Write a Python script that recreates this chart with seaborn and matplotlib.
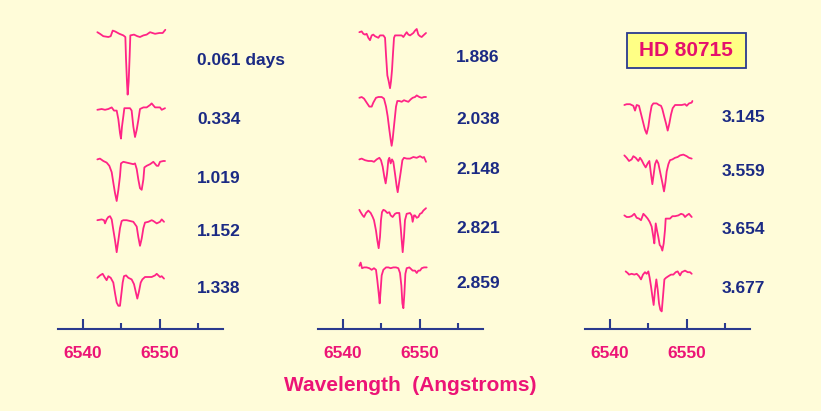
import numpy as np
import pandas as pd
import matplotlib
matplotlib.use("Agg")
import matplotlib.pyplot as plt
from matplotlib.patches import Rectangle
import seaborn as sns

# spectra of HD 80715 near 6545 A, continuum normalised to 1
# ---- left column ----
wl_0061 = [6541.87, 6542.21, 6542.65, 6543.30, 6543.61, 6543.87, 6544.17, 6544.74, 6545.26, 6545.52,
           6545.61, 6545.74, 6545.82, 6545.95, 6546.08, 6546.17, 6546.65, 6547.08, 6547.43, 6547.87,
           6548.30, 6548.74, 6549.39, 6549.95, 6550.39, 6550.73]
fx_0061 = [1.02, 1.00, 0.97, 0.96, 0.97, 1.04, 1.03, 1.00, 0.98, 0.96,
           0.68, 0.38, 0.24, 0.40, 0.72, 0.98, 0.99, 0.97, 0.96, 0.98,
           0.99, 1.02, 1.00, 1.01, 1.01, 1.05]

wl_0334 = [6541.87, 6542.43, 6542.87, 6543.30, 6543.74, 6544.04, 6544.39, 6544.61, 6544.82, 6544.95,
           6545.08, 6545.26, 6545.39, 6545.91, 6546.13, 6546.34, 6546.56, 6546.78, 6547.00, 6547.21,
           6547.43, 6547.87, 6548.30, 6548.74, 6548.95, 6549.39, 6550.04, 6550.26, 6550.69]
fx_0334 = [0.99, 1.00, 0.99, 1.00, 1.02, 0.98, 0.98, 0.87, 0.70, 0.63,
           0.78, 0.91, 1.01, 1.01, 1.01, 0.98, 0.78, 0.65, 0.74, 0.86,
           1.00, 1.02, 1.02, 1.05, 1.07, 1.02, 1.02, 0.99, 1.01]

wl_1019 = [6541.87, 6542.21, 6542.65, 6543.08, 6543.43, 6543.74, 6543.95, 6544.17, 6544.39, 6544.61,
           6544.82, 6544.95, 6545.26, 6545.69, 6546.13, 6546.56, 6546.78, 6547.00, 6547.21, 6547.43,
           6547.65, 6547.87, 6548.00, 6548.30, 6548.74, 6549.17, 6549.61, 6549.82, 6550.04, 6550.47,
           6550.69]
fx_1019 = [1.04, 1.05, 1.02, 1.00, 0.96, 0.88, 0.75, 0.62, 0.52, 0.66,
           0.83, 0.99, 1.01, 1.00, 0.99, 0.98, 0.99, 0.92, 0.79, 0.68,
           0.66, 0.79, 0.94, 0.96, 0.98, 1.01, 0.96, 0.96, 1.01, 1.02,
           1.02]

wl_1152 = [6541.87, 6542.43, 6542.74, 6542.87, 6543.08, 6543.30, 6543.52, 6543.74, 6543.95, 6544.17,
           6544.39, 6544.61, 6544.82, 6545.04, 6545.26, 6545.69, 6546.13, 6546.56, 6547.00, 6547.21,
           6547.43, 6547.65, 6547.87, 6548.08, 6548.52, 6548.95, 6549.17, 6549.61, 6550.04, 6550.26,
           6550.56]
fx_1152 = [1.00, 1.01, 1.00, 0.96, 1.01, 1.04, 1.05, 1.01, 0.88, 0.75,
           0.60, 0.75, 0.90, 0.99, 1.00, 1.00, 0.99, 0.98, 0.92, 0.79,
           0.68, 0.77, 0.90, 0.97, 0.98, 1.00, 0.99, 0.96, 0.98, 1.01,
           0.98]

wl_1338 = [6541.87, 6542.21, 6542.56, 6542.87, 6543.08, 6543.30, 6543.61, 6543.95, 6544.17, 6544.39,
           6544.61, 6544.82, 6545.04, 6545.17, 6545.34, 6545.61, 6545.91, 6546.34, 6546.65, 6546.91,
           6547.08, 6547.30, 6547.52, 6547.74, 6548.08, 6548.52, 6548.95, 6549.39, 6549.61, 6550.04,
           6550.26, 6550.56]
fx_1338 = [0.99, 1.02, 1.04, 0.99, 0.96, 1.01, 0.99, 0.93, 0.80, 0.68,
           0.64, 0.64, 0.82, 0.93, 1.01, 1.02, 0.99, 0.97, 0.91, 0.80,
           0.73, 0.82, 0.93, 0.97, 1.00, 1.00, 1.00, 1.02, 1.04, 1.00,
           1.01, 0.98]

# ---- middle column ----
wl_1886 = [6542.13, 6542.43, 6542.65, 6542.87, 6543.08, 6543.30, 6543.52, 6543.74, 6543.95, 6544.17,
           6544.39, 6544.61, 6544.82, 6545.26, 6545.48, 6545.61, 6545.78, 6545.95, 6546.13, 6546.26,
           6546.39, 6546.52, 6546.65, 6546.78, 6547.21, 6547.65, 6547.87, 6548.08, 6548.30, 6548.52,
           6548.74, 6549.17, 6549.39, 6549.61, 6549.82, 6550.04, 6550.26, 6550.47, 6550.82]
fx_1886 = [1.03, 1.04, 1.01, 1.00, 1.01, 0.96, 0.93, 0.99, 1.00, 0.98,
           0.97, 0.96, 0.99, 0.99, 0.96, 0.74, 0.49, 0.42, 0.33, 0.42,
           0.56, 0.77, 0.96, 0.99, 0.99, 0.99, 0.97, 1.00, 1.03, 1.00,
           0.99, 1.02, 1.05, 1.07, 1.00, 0.98, 0.97, 0.99, 1.02]

wl_2038 = [6542.13, 6542.43, 6542.74, 6543.08, 6543.43, 6543.74, 6543.95, 6544.30, 6544.61, 6545.04,
           6545.34, 6545.61, 6545.82, 6546.04, 6546.21, 6546.34, 6546.47, 6546.65, 6546.78, 6546.91,
           6547.08, 6547.34, 6547.65, 6547.95, 6548.21, 6548.52, 6548.82, 6549.08, 6549.39, 6549.61,
           6549.95, 6550.26, 6550.56, 6550.82]
fx_2038 = [1.00, 1.01, 0.99, 0.94, 0.89, 0.89, 0.94, 1.00, 1.01, 1.01,
           0.99, 0.89, 0.77, 0.60, 0.48, 0.40, 0.48, 0.65, 0.77, 0.89,
           0.96, 0.96, 0.95, 0.97, 0.96, 0.95, 0.98, 1.00, 1.01, 1.03,
           1.01, 1.00, 1.01, 1.01]

wl_2148 = [6542.13, 6542.43, 6542.87, 6543.30, 6543.74, 6544.04, 6544.39, 6544.74, 6544.95, 6545.17,
           6545.39, 6545.56, 6545.74, 6545.91, 6546.04, 6546.21, 6546.39, 6546.56, 6546.78, 6547.00,
           6547.13, 6547.30, 6547.52, 6547.74, 6547.95, 6548.30, 6548.74, 6549.17, 6549.61, 6550.04,
           6550.39, 6550.56, 6550.82]
fx_2148 = [1.01, 1.02, 1.00, 0.99, 0.99, 0.98, 1.01, 1.03, 1.00, 0.92,
           0.79, 0.71, 0.83, 1.00, 1.03, 0.96, 1.01, 0.98, 0.83, 0.67,
           0.60, 0.71, 0.85, 1.00, 1.03, 1.02, 1.02, 1.04, 1.03, 1.05,
           1.03, 1.04, 0.98]

wl_2821 = [6542.13, 6542.30, 6542.56, 6542.74, 6543.00, 6543.30, 6543.61, 6543.87, 6544.04, 6544.30,
           6544.47, 6544.65, 6544.82, 6544.95, 6545.08, 6545.26, 6545.48, 6545.78, 6546.04, 6546.21,
           6546.47, 6546.78, 6547.00, 6547.34, 6547.52, 6547.65, 6547.78, 6547.95, 6548.08, 6548.30,
           6548.74, 6548.95, 6549.08, 6549.26, 6549.39, 6549.61, 6549.82, 6550.04, 6550.26, 6550.47,
           6550.82]
fx_2821 = [1.03, 1.00, 0.96, 0.94, 0.99, 1.02, 0.99, 0.94, 0.90, 0.77,
           0.65, 0.55, 0.69, 0.90, 1.00, 1.03, 1.02, 0.99, 1.00, 0.96,
           0.94, 0.98, 0.99, 0.99, 0.81, 0.65, 0.50, 0.69, 0.90, 0.98,
           0.99, 0.96, 0.88, 0.96, 0.96, 0.93, 0.94, 0.98, 0.99, 1.02,
           1.05]

wl_2859 = [6542.13, 6542.30, 6542.48, 6542.74, 6543.08, 6543.43, 6543.74, 6544.04, 6544.30, 6544.47,
           6544.65, 6544.78, 6544.91, 6545.04, 6545.26, 6545.61, 6545.91, 6546.21, 6546.56, 6546.91,
           6547.21, 6547.43, 6547.61, 6547.74, 6547.87, 6548.00, 6548.13, 6548.30, 6548.65, 6548.87,
           6549.08, 6549.39, 6549.61, 6549.82, 6550.04, 6550.26, 6550.56, 6550.91]
fx_2859 = [1.02, 1.06, 0.99, 1.00, 1.00, 0.99, 0.97, 0.99, 0.97, 0.84,
           0.68, 0.55, 0.72, 0.90, 0.97, 1.00, 1.00, 0.99, 1.00, 1.00,
           0.99, 0.93, 0.77, 0.55, 0.49, 0.67, 0.92, 0.99, 1.00, 0.98,
           0.96, 0.96, 0.93, 0.96, 0.96, 0.99, 1.00, 1.00]

# ---- right column ----
wl_3145 = [6541.87, 6542.17, 6542.61, 6543.04, 6543.26, 6543.48, 6543.78, 6544.04, 6544.30, 6544.56,
           6544.78, 6545.00, 6545.22, 6545.43, 6545.65, 6546.08, 6546.39, 6546.65, 6546.82, 6547.08,
           6547.30, 6547.52, 6547.74, 6547.95, 6548.17, 6548.48, 6548.91, 6549.35, 6549.78, 6550.00,
           6550.30, 6550.65, 6550.74]
fx_3145 = [1.00, 1.01, 1.01, 0.99, 0.93, 1.00, 0.99, 0.89, 0.79, 0.69,
           0.64, 0.73, 0.88, 0.99, 1.02, 1.02, 1.00, 0.99, 0.95, 0.85,
           0.77, 0.68, 0.77, 0.88, 0.96, 1.00, 1.00, 1.00, 1.01, 0.99,
           1.02, 1.03, 1.05]

wl_3559 = [6541.87, 6542.17, 6542.48, 6542.82, 6543.04, 6543.35, 6543.69, 6543.91, 6544.13, 6544.39,
           6544.65, 6544.91, 6545.13, 6545.35, 6545.52, 6545.69, 6545.87, 6546.08, 6546.30, 6546.56,
           6546.82, 6547.04, 6547.22, 6547.39, 6547.61, 6547.82, 6548.13, 6548.48, 6548.82, 6549.13,
           6549.56, 6550.00, 6550.30, 6550.65]
fx_3559 = [1.03, 1.00, 0.96, 0.98, 1.02, 1.00, 0.96, 1.00, 0.97, 0.92,
           0.88, 0.93, 0.96, 0.79, 0.67, 0.79, 0.92, 0.97, 0.93, 0.81,
           0.69, 0.58, 0.69, 0.83, 0.92, 0.97, 0.98, 1.00, 1.01, 1.03,
           1.04, 1.02, 1.00, 0.99]

wl_3654 = [6541.87, 6542.17, 6542.48, 6542.82, 6543.17, 6543.48, 6543.78, 6544.04, 6544.35, 6544.65,
           6544.91, 6545.17, 6545.43, 6545.65, 6545.78, 6545.96, 6546.13, 6546.30, 6546.48, 6546.65,
           6546.82, 6547.00, 6547.17, 6547.26, 6547.52, 6547.82, 6548.13, 6548.48, 6548.91, 6549.26,
           6549.56, 6549.78, 6550.00, 6550.30, 6550.65]
fx_3654 = [1.01, 0.99, 0.99, 1.00, 1.03, 0.98, 0.97, 0.95, 1.03, 1.00,
           0.97, 0.93, 0.87, 0.74, 0.66, 0.91, 0.82, 0.74, 0.64, 0.62,
           0.57, 0.66, 0.83, 0.97, 0.97, 0.97, 1.00, 1.00, 1.01, 1.03,
           1.02, 0.99, 1.01, 1.03, 0.99]

wl_3677 = [6542.04, 6542.30, 6542.48, 6542.82, 6543.17, 6543.48, 6543.78, 6544.04, 6544.30, 6544.56,
           6544.78, 6545.00, 6545.17, 6545.35, 6545.52, 6545.69, 6545.87, 6546.04, 6546.22, 6546.39,
           6546.56, 6546.74, 6546.91, 6547.09, 6547.30, 6547.61, 6547.95, 6548.26, 6548.56, 6548.82,
           6549.13, 6549.35, 6549.78, 6550.13, 6550.43, 6550.65]
fx_3677 = [1.03, 1.01, 0.99, 1.00, 0.99, 1.00, 0.97, 0.93, 0.99, 1.02,
           1.00, 1.03, 0.95, 0.84, 0.72, 0.61, 0.80, 0.93, 0.80, 0.63,
           0.55, 0.53, 0.72, 0.93, 0.95, 0.97, 0.99, 0.99, 1.02, 1.03,
           0.98, 1.02, 1.04, 1.02, 1.02, 1.00]

epochs = [["0.061 days", "0.334", "1.019", "1.152", "1.338"],
          ["1.886", "2.038", "2.148", "2.821", "2.859"],
          ["3.145", "3.559", "3.654", "3.677"]]
columns = [[(wl_0061, fx_0061), (wl_0334, fx_0334), (wl_1019, fx_1019), (wl_1152, fx_1152), (wl_1338, fx_1338)],
           [(wl_1886, fx_1886), (wl_2038, fx_2038), (wl_2148, fx_2148), (wl_2821, fx_2821), (wl_2859, fx_2859)],
           [(wl_3145, fx_3145), (wl_3559, fx_3559), (wl_3654, fx_3654), (wl_3677, fx_3677)]]
major_ticks = [6540, 6550]
minor_ticks = [6545, 6555]

# styling / layout
BG = "#FFFCD9"
PINK = "#FF2486"
PINK_TXT = "#EC1476"
BLUE = "#2A3A8E"
BLUE_TXT = "#1B2A84"
W, H = 821, 411

# vertical offsets of each trace (flux units) and label anchors (pixels)
offsets = [[2.69, 1.75, 1.08, 0.36, -0.35],
           [2.68, 1.89, 1.11, 0.46, -0.23],
           [1.80, 1.14, 0.41, -0.31]]
label_x = [197, 456, 722]
label_y = [[61, 119, 178, 231, 288],
           [57, 119, 170, 228, 283],
           [117, 172, 229, 288]]
axes_left = [58, 318, 585]

sns.set_theme(style="white")
plt.rcParams["font.family"] = ["Liberation Sans", "DejaVu Sans"]

fig = plt.figure(figsize=(W / 100, H / 100), dpi=100)
fig.patch.set_facecolor(BG)

for col in range(3):
    ax = fig.add_axes([axes_left[col] / W, (H - 329) / H, 165 / W, 329 / H])
    ax.set_facecolor("none")
    for (wl, fx), off in zip(columns[col], offsets[col]):
        df = pd.DataFrame({"wl": wl, "flux": np.array(fx) + off})
        sns.lineplot(data=df, x="wl", y="flux", ax=ax, color=PINK, lw=1.3,
                     sort=False, estimator=None)
    ax.set_xlim(6536.74, 6558.25)
    ax.set_ylim(0, 329 / 80)
    ax.set_xlabel("")
    ax.set_ylabel("")
    ax.set_yticks([])
    for s in ["top", "left", "right"]:
        ax.spines[s].set_visible(False)
    ax.spines["bottom"].set_color(BLUE)
    ax.spines["bottom"].set_linewidth(1.5)
    ax.set_xticks(major_ticks)
    ax.set_xticks(minor_ticks, minor=True)
    ax.tick_params(axis="x", which="major", direction="in", length=7.5, width=1.5,
                   color=BLUE, pad=12, labelsize=12.5, labelcolor=PINK_TXT, bottom=True)
    ax.tick_params(axis="x", which="minor", direction="in", length=4.5, width=1.5,
                   color=BLUE, bottom=True)
    for lbl in ax.get_xticklabels():
        lbl.set_fontweight("bold")

    for txt, y in zip(epochs[col], label_y[col]):
        fig.text(label_x[col] / W, 1 - y / H, txt, ha="left", va="center",
                 fontsize=12.5, fontweight="bold", color=BLUE_TXT)

fig.text(410 / W, 1 - 385 / H, "Wavelength  (Angstroms)", ha="center", va="center",
         fontsize=15, fontweight="bold", color=PINK_TXT)

# star name box
fig.add_artist(Rectangle((627 / W, 1 - 68 / H), 119 / W, 35 / H, transform=fig.transFigure,
                         facecolor="#FFFF85", edgecolor=BLUE, lw=1.3))
fig.text(686 / W, 1 - 50 / H, "HD 80715", ha="center", va="center",
         fontsize=15, fontweight="bold", color="#E5106C")

fig.savefig("out.png", dpi=100, facecolor=fig.get_facecolor())
